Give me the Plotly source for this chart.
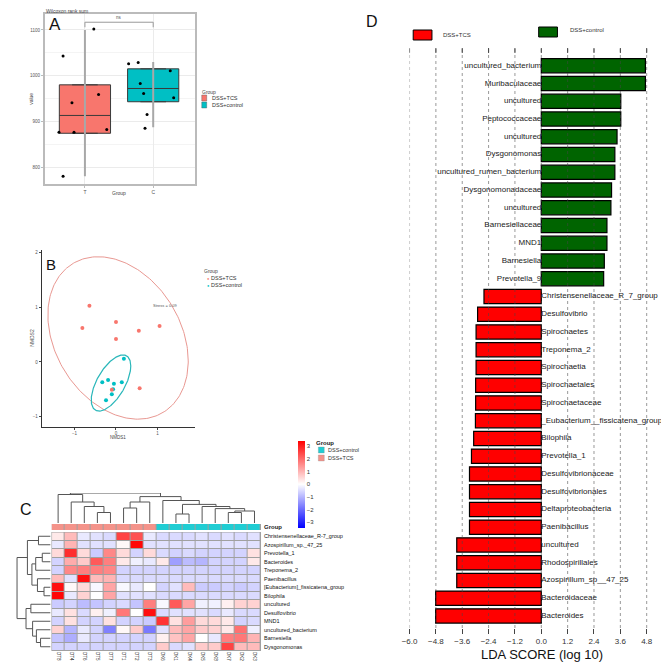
import numpy as np
import plotly.graph_objects as go

W, H = 669, 662
def fx(p): return p / W
def fy(p): return 1 - p / H

SANS = "Liberation Sans, Arial, Helvetica, sans-serif"
NARROW = "Liberation Sans Narrow, Arial Narrow, Liberation Sans, Arial, sans-serif"

# ---------------- Panel A data (Wilcoxon boxplot) ----------------
a_groups = ["DSS+TCS", "DSS+control"]
a_ticklabels = ["T", "C"]
a_pos = [1, 2]
a_q1 = [874, 943]
a_median = [913, 972]
a_q3 = [980, 1015]
a_lower = [780, 887]
a_upper = [1100, 1030]
a_tcs_values = [1043, 1102, 941, 959, 876, 876, 882, 780]
a_tcs_jitter = [-0.32, 0.13, -0.19, 0.20, -0.38, -0.16, 0.32, -0.32]
a_ctrl_values = [1026, 1029, 1011, 983, 961, 952, 915, 885]
a_ctrl_jitter = [-0.36, -0.22, 0.25, -0.19, -0.14, 0.30, -0.09, -0.12]
a_yticks = [800, 900, 1000, 1100]
a_sig_label = "ns"
a_bracket = [1106, 1117]
a_colors = ["#F8766D", "#00BFC4"]

# ---------------- Panel B data (NMDS) ----------------
b_tcs_x = [-0.64, 0.00, -0.81, 0.55, 1.05, 0.00, 0.57, -0.10]
b_tcs_y = [1.03, 0.73, 0.62, 0.57, 0.66, 0.42, -0.48, -0.51]
b_ctrl_x = [0.19, -0.33, -0.19, -0.05, 0.14, -0.07, -0.10, -0.24]
b_ctrl_y = [0.06, -0.37, -0.33, -0.40, -0.37, -0.50, -0.59, -0.70]
b_tcs_ellipse_center = [0.05, 0.44]
b_tcs_ellipse_cov = [[2.86, -0.712], [-0.712, 2.21]]
b_ctrl_ellipse_center = [-0.12, -0.385]
b_ctrl_ellipse_cov = [[0.227, 0.1485], [0.1485, 0.264]]
b_stress = "Stress = 0.09"
b_xticks = [-1, 0, 1]
b_yticks = [-1, 0, 1, 2]

# ---------------- Panel C data (heatmap) ----------------
c_rows = ["Christensenellaceae_R-7_group", "Azospirillum_sp._47_25", "Prevotella_1",
          "Bacteroides", "Treponema_2", "Paenibacillus", "[Eubacterium]_fissicatena_group",
          "Bilophila", "uncultured", "Desulfovibrio", "MND1", "uncultured_bacterium",
          "Barnesiella", "Dysgonomonas"]
c_cols = ["DT8", "DT4", "DT6", "DT5", "DT7", "DT1", "DT2", "DT3",
          "DK6", "DK1", "DK4", "DK5", "DK8", "DK7", "DK2", "DK3"]
c_col_group = [0, 0, 0, 0, 0, 0, 0, 0, 1, 1, 1, 1, 1, 1, 1, 1]
c_values = [
    [0.3, 0.9, -0.3, -0.4, -0.5, 2.5, 2.3, -0.3, -0.5, -0.5, -0.5, -0.4, -0.5, -0.4, -0.5, -0.4],
    [-0.3, 1.0, -0.4, -0.4, -0.4, 0.1, 3.3, -0.4, -0.4, -0.4, -0.4, -0.4, -0.4, -0.4, -0.4, -0.4],
    [0.5, 2.8, 0.5, -0.7, 1.6, 0.5, -0.6, 0.5, -0.5, -0.6, -0.5, -0.6, -0.6, -0.6, -0.6, 0.4],
    [-0.6, 1.1, 0.7, 2.2, 1.7, 0.3, -0.2, -0.3, 0.3, -1.3, -0.9, -1.0, -0.6, -0.6, -0.6, 0.3],
    [-0.6, 1.6, 1.7, 1.7, 1.6, -0.6, -0.6, -0.6, -0.6, -0.6, -0.6, -0.6, -0.6, -0.6, -0.6, -0.6],
    [0.9, -0.4, 3.2, 0.9, 1.0, -0.5, -0.5, -0.5, -0.5, -0.5, -0.5, -0.5, -0.5, -0.5, -0.5, -0.5],
    [3.2, 0.1, 0.5, -0.1, 1.2, -0.1, -0.3, 0.0, -0.6, -0.4, 0.9, -0.7, -0.7, -0.6, -0.7, -0.6],
    [3.3, -0.3, 0.6, 0.0, 1.2, -0.4, -0.4, -0.4, -0.5, -0.5, -0.5, -0.5, -0.5, -0.5, -0.5, -0.5],
    [-0.7, -0.6, -0.9, -0.8, -0.6, -0.5, -0.8, 1.7, -0.1, 2.2, 1.2, -0.2, -0.2, 0.2, 0.6, 0.6],
    [-0.3, 0.4, -0.5, 0.2, -0.2, 1.8, 0.0, 3.2, -0.5, -0.4, -0.4, -0.4, -0.5, -0.3, -0.5, -0.5],
    [-0.6, 0.4, -0.6, -0.6, 0.4, -0.6, -0.6, -0.7, 2.7, 0.4, 1.3, 0.5, 0.5, 0.3, -0.6, -0.5],
    [0.6, -1.0, -0.3, -0.6, -1.7, 0.1, 0.7, -1.8, -0.4, 0.9, 1.2, 0.7, 0.6, 0.3, 1.9, -0.2],
    [-0.8, -1.1, -0.3, -0.6, -0.6, -0.6, -0.6, -0.6, 0.2, 0.8, 1.2, 0.0, -0.3, 1.7, 1.8, 1.0],
    [-0.6, -0.6, -0.6, -0.6, -0.6, -0.6, -0.6, -0.6, 0.7, -0.5, -0.4, 0.7, 0.7, 2.5, 0.9, 0.9],
]
c_colorbar_ticks = [-3, -2, -1, 0, 1, 2, 3]
c_zrange = [-3.45, 3.4]
# dendrograms: nested [left, right, height]; ints are leaf positions
c_col_tree = [[0, [1, [2, [3, 4, 0.35], 0.55], 0.7], 0.95],
              [[[5, 6, 0.5], 7, 0.7],
               [8, [[9, 10, 0.3], [11, [12, [[13, 14, 0.35], 15, 0.4], 0.48], 0.55], 0.62], 0.75],
               0.88],
              1.0]
c_row_tree = [[[0, 1, 0.35], [[[2, 3, 0.24], 4, 0.43], [5, [6, 7, 0.19], 0.38], 0.54], 0.67],
              [[8, 9, 0.57], [10, [11, [12, 13, 0.29], 0.41], 0.52], 0.71],
              0.97]
c_group_names = ["DSS+TCS", "DSS+control"]
c_group_colors = ["#F4938A", "#20CDD3"]

# ---------------- Panel D data (LEfSe LDA) ----------------
d_features = ["uncultured_bacterium", "Muribaculaceae", "uncultured", "Peptococcaceae",
              "uncultured", "Dysgonomonas", "uncultured_rumen_bacterium", "Dysgonomonadaceae",
              "uncultured", "Barnesiellaceae", "MND1", "Barnesiella", "Prevotella_9",
              "Christensenellaceae_R_7_group", "Desulfovibrio", "Spirochaetes", "Treponema_2",
              "Spirochaetia", "Spirochaetales", "Spirochaetaceae",
              "_Eubacterium__fissicatena_group", "Bilophila", "Prevotella_1",
              "Desulfovibrionaceae", "Desulfovibrionales", "Deltaproteobacteria",
              "Paenibacillus", "uncultured", "Rhodospirillales", "Azospirillum_sp__47_25",
              "Bacteroidaceae", "Bacteroides"]
d_lda = [4.74, 4.74, 3.62, 3.62, 3.45, 3.35, 3.35, 3.20, 3.17, 2.99, 2.99, 2.87, 2.84,
         -2.61, -2.90, -2.97, -2.97, -2.97, -2.99, -2.99, -3.00, -3.08, -3.18,
         -3.27, -3.27, -3.27, -3.27, -3.85, -3.85, -3.85, -4.81, -4.81]
d_ticks = [-6.0, -4.8, -3.6, -2.4, -1.2, 0.0, 1.2, 2.4, 3.6, 4.8, 6.0]
d_group_names = ["DSS+TCS", "DSS+control"]
d_group_colors = ["#FF0000", "#006400"]

fig = go.Figure()

# ================= Panel A =================
wx, wy = [], []
for i in range(2):
    wx += [a_pos[i], a_pos[i], None]
    wy += [a_lower[i], a_upper[i], None]
fig.add_trace(go.Scatter(x=wx, y=wy, mode="lines", line=dict(color="#A8A8A8", width=2),
                         xaxis="x", yaxis="y", showlegend=False, hoverinfo="skip"))
for i in range(2):
    fig.add_trace(go.Box(x=[a_pos[i]], q1=[a_q1[i]], median=[a_median[i]], q3=[a_q3[i]],
                         lowerfence=[a_q1[i]], upperfence=[a_q3[i]], width=0.75,
                         fillcolor=a_colors[i], line=dict(color="#3a3a3a", width=1),
                         boxpoints=False, xaxis="x", yaxis="y", showlegend=False))
fig.add_trace(go.Scatter(x=[a_pos[0] + j for j in a_tcs_jitter], y=a_tcs_values, mode="markers",
                         marker=dict(color="black", size=3), xaxis="x", yaxis="y", showlegend=False))
fig.add_trace(go.Scatter(x=[a_pos[1] + j for j in a_ctrl_jitter], y=a_ctrl_values, mode="markers",
                         marker=dict(color="black", size=3), xaxis="x", yaxis="y", showlegend=False))
fig.add_trace(go.Scatter(x=[a_pos[0], a_pos[0], a_pos[1], a_pos[1]],
                         y=[a_bracket[0], a_bracket[1], a_bracket[1], a_bracket[0]],
                         mode="lines", line=dict(color="#999999", width=1),
                         xaxis="x", yaxis="y", showlegend=False, hoverinfo="skip"))

# ================= Panel B =================
def ellipse(center, cov, n=240):
    L = np.linalg.cholesky(np.array(cov))
    t = np.linspace(0, 2 * np.pi, n)
    pts = L @ np.vstack([np.cos(t), np.sin(t)])
    return center[0] + pts[0], center[1] + pts[1]

ex, ey = ellipse(b_tcs_ellipse_center, b_tcs_ellipse_cov)
fig.add_trace(go.Scatter(x=ex, y=ey, mode="lines", line=dict(color="#E99892", width=1),
                         xaxis="x2", yaxis="y2", showlegend=False, hoverinfo="skip"))
ex, ey = ellipse(b_ctrl_ellipse_center, b_ctrl_ellipse_cov)
fig.add_trace(go.Scatter(x=ex, y=ey, mode="lines", line=dict(color="#2BB7BA", width=1.2),
                         xaxis="x2", yaxis="y2", showlegend=False, hoverinfo="skip"))
fig.add_trace(go.Scatter(x=b_ctrl_x, y=b_ctrl_y, mode="markers",
                         marker=dict(color=a_colors[1], size=4), xaxis="x2", yaxis="y2", showlegend=False))
fig.add_trace(go.Scatter(x=b_tcs_x, y=b_tcs_y, mode="markers",
                         marker=dict(color=a_colors[0], size=4), xaxis="x2", yaxis="y2", showlegend=False))

# ================= Panel C =================
nr, nc = len(c_rows), len(c_cols)
fig.add_trace(go.Heatmap(
    z=c_values, x=list(range(nc)), y=list(range(nr)),
    colorscale=[[0, "#0000FF"], [-c_zrange[0] / (c_zrange[1] - c_zrange[0]), "#FFFFFF"], [1, "#FF0000"]],
    zmin=c_zrange[0], zmax=c_zrange[1], xgap=1, ygap=1, xaxis="x3", yaxis="y3",
    colorbar=dict(x=fx(285), xanchor="left", y=fy(433), yanchor="top", len=87 / H,
                  lenmode="fraction", thickness=7, thicknessmode="pixels",
                  tickvals=c_colorbar_ticks, tickfont=dict(size=6, color="#333"),
                  outlinewidth=0, ticks="", xpad=0, ypad=0),
    hoverinfo="skip"))
fig.add_trace(go.Heatmap(
    z=[c_col_group], x=list(range(nc)), y=[0],
    colorscale=[[0, c_group_colors[0]], [0.5, c_group_colors[0]], [0.5, c_group_colors[1]], [1, c_group_colors[1]]],
    zmin=0, zmax=1, xgap=1, showscale=False, xaxis="x4", yaxis="y4", hoverinfo="skip"))

def dendro(tree):
    xs, ys = [], []
    def rec(node):
        if isinstance(node, int):
            return float(node), 0.0
        l, r, h = node
        lx, lh = rec(l)
        rx, rh = rec(r)
        xs.extend([lx, lx, rx, rx, None])
        ys.extend([lh, h, h, rh, None])
        return (lx + rx) / 2, h
    rec(tree)
    return xs, ys

dx, dy = dendro(c_col_tree)
fig.add_trace(go.Scatter(x=dx, y=dy, mode="lines", line=dict(color="#555555", width=1),
                         xaxis="x5", yaxis="y5", showlegend=False, hoverinfo="skip", cliponaxis=False))
rx_, ry_ = dendro(c_row_tree)
fig.add_trace(go.Scatter(x=ry_, y=rx_, mode="lines", line=dict(color="#555555", width=1),
                         xaxis="x6", yaxis="y6", showlegend=False, hoverinfo="skip", cliponaxis=False))

# ================= Panel D =================
d_idx = list(range(len(d_features)))
d_colors = [d_group_colors[1] if v > 0 else d_group_colors[0] for v in d_lda]
fig.add_trace(go.Bar(x=d_lda, y=d_idx, orientation="h", width=0.8,
                     marker=dict(color=d_colors, line=dict(color="black", width=1.2)),
                     xaxis="x7", yaxis="y7", showlegend=False, hoverinfo="skip"))
pos_i = [i for i, v in enumerate(d_lda) if v > 0]
neg_i = [i for i, v in enumerate(d_lda) if v <= 0]
fig.add_trace(go.Scatter(x=[0] * len(pos_i), y=pos_i, text=[d_features[i] for i in pos_i],
                         mode="text", textposition="middle left",
                         textfont=dict(family=NARROW, size=8, color="#1a1a1a"),
                         xaxis="x7", yaxis="y7", showlegend=False, hoverinfo="skip", cliponaxis=False))
fig.add_trace(go.Scatter(x=[0] * len(neg_i), y=neg_i, text=[d_features[i] for i in neg_i],
                         mode="text", textposition="middle right",
                         textfont=dict(family=NARROW, size=8, color="#1a1a1a"),
                         xaxis="x7", yaxis="y7", showlegend=False, hoverinfo="skip", cliponaxis=False))

# ================= Shapes =================
shapes = []
shapes.append(dict(type="rect", xref="x3", yref="y3", x0=-0.5, x1=nc - 0.5, y0=-0.5, y1=nr - 0.5,
                   fillcolor="#A0A0A0", line=dict(width=0), layer="below"))
shapes.append(dict(type="rect", xref="x3", yref="y3", x0=-0.5, x1=nc - 0.5, y0=-0.5, y1=nr - 0.5,
                   fillcolor="rgba(0,0,0,0)", line=dict(color="#A0A0A0", width=1), layer="above"))
shapes.append(dict(type="rect", xref="x4", yref="y4", x0=-0.5, x1=nc - 0.5, y0=-0.5, y1=0.5,
                   fillcolor="#A0A0A0", line=dict(width=0), layer="below"))
for t in d_ticks:
    shapes.append(dict(type="line", xref="x7", yref="y7 domain", x0=t, x1=t, y0=0, y1=1,
                       line=dict(color="rgba(70,70,70,0.55)", width=1, dash="dot"), layer="above"))
    shapes.append(dict(type="line", xref="x7", yref="y7 domain", x0=t, x1=t, y0=1, y1=1 - 5 / 580,
                       line=dict(color="#444", width=1), layer="above"))
def prect(x0, y0, x1, y1, fill, lc="#333", lw=0.6):
    return dict(type="rect", xref="paper", yref="paper", x0=fx(x0), x1=fx(x1), y0=fy(y1), y1=fy(y0),
                fillcolor=fill, line=dict(color=lc, width=lw))
shapes.append(prect(188, 87, 193, 93, a_colors[0], "#555", 0.4))
shapes.append(prect(188, 94, 193, 100, a_colors[1], "#555", 0.4))
shapes.append(prect(306, 439, 312, 445, c_group_colors[1], "#888", 0.3))
shapes.append(prect(306, 447, 312, 453, c_group_colors[0], "#888", 0.3))
shapes.append(prect(402, 22, 421, 32, d_group_colors[0], "black", 1))
shapes.append(prect(529, 19, 548, 29, d_group_colors[1], "black", 1))

# ================= Annotations =================
ann = []
def pa(x, y, text, size, xanchor="left", color="#222", family=SANS, angle=0, bold=False):
    ann.append(dict(x=fx(x), y=fy(y), xref="paper", yref="paper", text=f"<b>{text}</b>" if bold else text,
                    showarrow=False, xanchor=xanchor, yanchor="middle", textangle=angle,
                    font=dict(size=size, color=color, family=family)))

pa(39, 16, "A", 17, "center", "#111")
pa(35, 256, "B", 15, "center", "#111")
pa(10, 501, "C", 16, "center", "#111")
pa(360, 13, "D", 16, "center", "#111")
pa(28, 3, "Wilcoxon rank sum", 5, "left", "#444")
pa(15, 91, "value", 5, "center", "#444", angle=-90)
pa(104, 185, "Group", 5, "center", "#444")
pa(186, 84, "Group", 5, "left", "#444")
pa(196, 90, a_groups[0], 5.5, "left", "#333")
pa(196, 97, a_groups[1], 5.5, "left", "#333")
ann.append(dict(x=(a_pos[0] + a_pos[1]) / 2, y=a_bracket[1], xref="x", yref="y", text=a_sig_label,
                showarrow=False, yanchor="bottom", font=dict(size=4.5, color="#555")))
pa(16, 330, "NMDS2", 5, "center", "#444", angle=-90)
pa(103, 429.5, "NMDS1", 4.5, "center", "#444")
pa(188, 263, "Group", 5, "left", "#444")
ann.append(dict(x=fx(191), y=fy(270), xref="paper", yref="paper", text="●", showarrow=False,
                font=dict(size=4, color=a_colors[0])))
ann.append(dict(x=fx(191), y=fy(277), xref="paper", yref="paper", text="●", showarrow=False,
                font=dict(size=4, color=a_colors[1])))
pa(195, 270, a_groups[0], 5.5, "left", "#333")
pa(195, 277, a_groups[1], 5.5, "left", "#333")
ann.append(dict(x=1.19, y=1.03, xref="x2", yref="y2", text=b_stress, showarrow=False,
                font=dict(size=4, color="#555")))
pa(249, 519, "Group", 6, "left", "#222", bold=True)
pa(302, 435, "Group", 6, "left", "#222", bold=True)
pa(314, 442, c_group_names[1], 5.5, "left", "#333")
pa(314, 450, c_group_names[0], 5.5, "left", "#333")
pa(430, 27, d_group_names[0], 6, "left", "#333")
pa(559, 22, d_group_names[1], 6, "left", "#333")
pa(532, 646, "LDA SCORE (log 10)", 13, "center", "#111", family=NARROW)

axis_off = dict(visible=False, showgrid=False, zeroline=False)

fig.update_layout(
    width=W, height=H, margin=dict(l=0, r=0, t=0, b=0),
    paper_bgcolor="white", plot_bgcolor="white",
    font=dict(family=SANS, color="#333"),
    showlegend=False, hovermode=False,
    shapes=shapes, annotations=ann,
    xaxis=dict(domain=[fx(29), fx(181)], range=[0.41, 2.61], tickvals=a_pos, ticktext=a_ticklabels,
               tickfont=dict(size=5, color="#555"), showgrid=True, gridcolor="#EBEBEB",
               showline=True, mirror=True, linecolor="#BBBBBB", linewidth=1.5,
               ticks="outside", ticklen=2, tickcolor="#BBBBBB", zeroline=False),
    yaxis=dict(domain=[fy(176), fy(6)], range=[763, 1135], tickvals=a_yticks,
               tickfont=dict(size=4.5, color="#555"), showgrid=True, gridcolor="#EBEBEB",
               minor=dict(tickvals=[850, 950, 1050], showgrid=True, gridcolor="#F4F4F4"),
               showline=True, mirror=True, linecolor="#BBBBBB", linewidth=1.5,
               ticks="outside", ticklen=2, tickcolor="#BBBBBB", zeroline=False),
    xaxis2=dict(domain=[fx(26), fx(181)], range=[-1.79, 1.90], tickvals=b_xticks,
                tickfont=dict(size=4.5, color="#555"), showgrid=False, zeroline=False,
                showline=True, linecolor="#333", linewidth=1, ticks="outside", ticklen=2, anchor="y2"),
    yaxis2=dict(domain=[fy(419), fy(242)], range=[-1.19, 2.05], tickvals=b_yticks,
                tickfont=dict(size=4.5, color="#555"), showgrid=False, zeroline=False,
                showline=True, linecolor="#333", linewidth=1, ticks="outside", ticklen=2, anchor="x2"),
    xaxis3=dict(domain=[fx(36), fx(248)], range=[-0.5, nc - 0.5], tickvals=list(range(nc)),
                ticktext=c_cols, tickangle=90, tickfont=dict(size=4.6, color="#222"),
                showgrid=False, zeroline=False, ticks="", anchor="y3", ticklabelstandoff=0),
    yaxis3=dict(domain=[fy(643), fy(524)], range=[nr - 0.5, -0.5], tickvals=list(range(nr)),
                ticktext=c_rows, side="right", tickfont=dict(size=5.5, color="#111"),
                showgrid=False, zeroline=False, ticks="", anchor="x3", ticklabelstandoff=2),
    xaxis4=dict(domain=[fx(36), fx(248)], range=[-0.5, nc - 0.5], anchor="y4", **axis_off),
    yaxis4=dict(domain=[fy(522), fy(516)], range=[-0.5, 0.5], anchor="x4", **axis_off),
    xaxis5=dict(domain=[fx(36), fx(248)], range=[-0.5, nc - 0.5], anchor="y5", **axis_off),
    yaxis5=dict(domain=[fy(515), fy(485)], range=[0, 1.0], anchor="x5", **axis_off),
    xaxis6=dict(domain=[fx(0), fx(35)], range=[1.0, 0], anchor="y6", **axis_off),
    yaxis6=dict(domain=[fy(643), fy(524)], range=[nr - 0.5, -0.5], anchor="x6", **axis_off),
    xaxis7=dict(domain=[fx(398.3), fx(665)], range=[-6, 6], tickvals=d_ticks,
                ticktext=[f"{t:.1f}".replace("-", "\u2212") for t in d_ticks],
                tickfont=dict(size=8, family=NARROW, color="#333"), showgrid=False, zeroline=False,
                showline=False, ticks="outside", ticklen=5, tickcolor="#444", anchor="y7"),
    yaxis7=dict(domain=[fy(620), fy(40)], range=[len(d_features) - 1 + 0.68, -1.0], anchor="x7",
                **axis_off),
)

fig.write_html("out.html")
